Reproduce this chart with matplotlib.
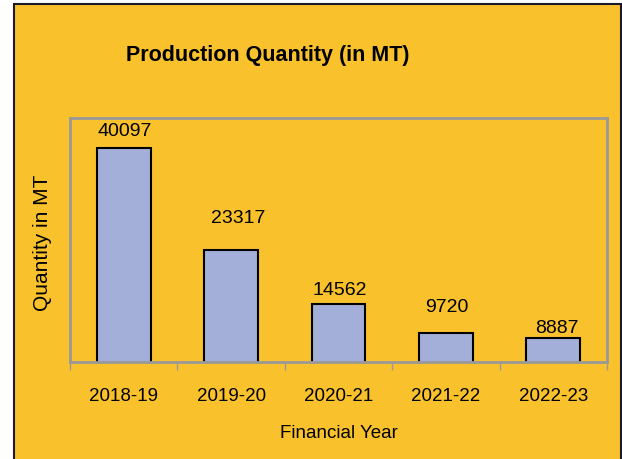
import matplotlib
matplotlib.use("Agg")
import matplotlib.pyplot as plt
from matplotlib.patches import Rectangle

plt.rcParams['font.family'] = ['Liberation Sans', 'DejaVu Sans']

years = ['2018-19', '2019-20', '2020-21', '2021-22', '2022-23']
quantity = [40097, 23317, 14562, 9720, 8887]

# label offsets from bar top (points), as placed in the original
label_gap = [6.0, 17.0, 3.5, 12.5, 0.8]
label_dx = [1.0, 5.0, 0.7, 1.0, 2.5]

bg = '#F9C22C'
bar_color = '#A3AFD8'

fig = plt.figure(figsize=(6.22, 4.59), dpi=100)
fig.patch.set_facecolor('white')
# yellow panel with black frame
fig.patches.append(Rectangle((13.5 / 622, -0.05), (621 - 13.5) / 622, 1.05 - 3.5 / 459,
                             transform=fig.transFigure, facecolor=bg,
                             edgecolor='#1a1a2a', linewidth=1.5, zorder=-10))

ax = fig.add_axes([70 / 622, 1 - 362 / 459, 537 / 622, 244 / 459])
ax.set_zorder(5)
ax.set_facecolor(bg)
x = list(range(len(years)))
ax.bar(x, quantity, width=0.5, color=bar_color, edgecolor='black', linewidth=1.5, zorder=2)
ax.set_xlim(-0.5, 4.5)
ax.set_ylim(5000, 45000)

for xi, v, g, dx in zip(x, quantity, label_gap, label_dx):
    ax.annotate(str(v), (xi, v), xytext=(dx, g), textcoords='offset points',
                ha='center', va='bottom', fontsize=14, color='black')

for s in ax.spines.values():
    s.set_color('#999999')
    s.set_linewidth(2)
ax.set_yticks([])
ax.set_xticks(x)
ax.set_xticklabels(years, fontsize=13.5)
ax.tick_params(axis='x', which='major', length=0, pad=19)
ax.set_xticks([i - 0.5 for i in range(len(years) + 1)], minor=True)
ax.tick_params(axis='x', which='minor', length=6, color='#999999', width=1)

ax.set_xlabel('Financial Year', fontsize=13.5, labelpad=14)
ax.set_ylabel('Quantity in MT', fontsize=15)
ax.yaxis.set_label_coords(-18 / 537, 0.49)

fig.text(268 / 622, 1 - 56 / 459, 'Production Quantity (in MT)', fontsize=15.5,
         fontweight='bold', ha='center', va='center')

fig.savefig('out.png', dpi=100, facecolor=fig.get_facecolor())
